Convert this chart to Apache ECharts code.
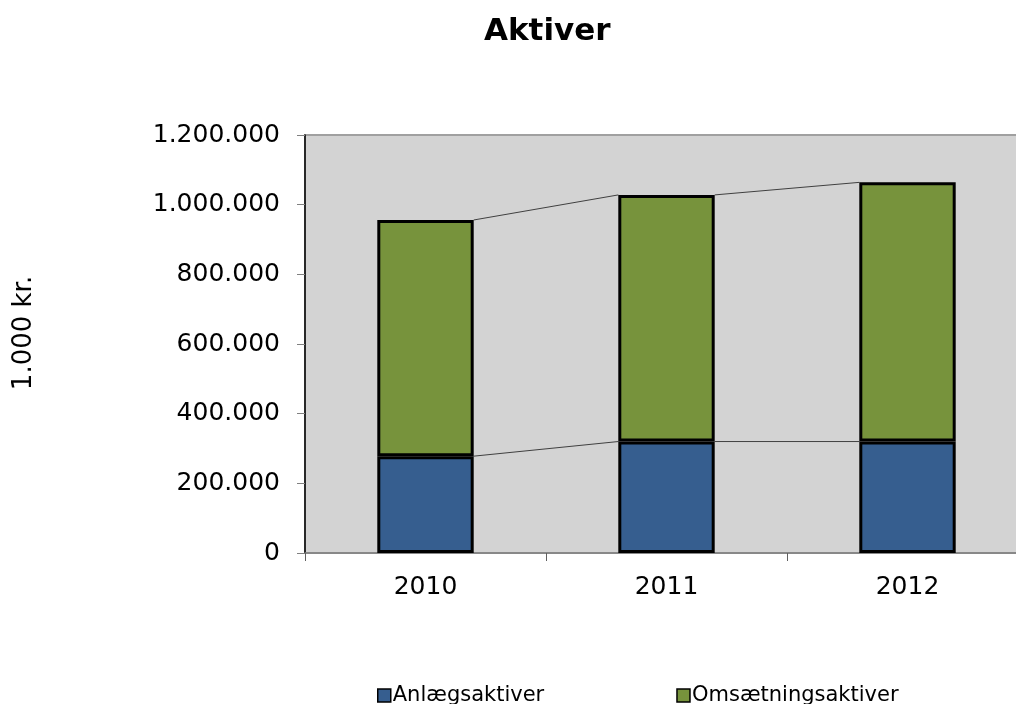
<!DOCTYPE html>
<html>
<head>
<meta charset="utf-8">
<script src="https://cdn.jsdelivr.net/npm/echarts@6/dist/echarts.min.js"></script>
<style>
  html, body { margin: 0; padding: 0; background: #fff; }
  #aktiver-chart { width: 1016px; height: 704px; }
</style>
</head>
<body>
<div id="aktiver-chart"></div>
<script>
// data (1.000 kr.)
const years = ['2010', '2011', '2012'];
const anlaeg = [278000, 320000, 320000];
const omsaetning = [678000, 708000, 744000];
const yTicks = [0, 200000, 400000, 600000, 800000, 1000000, 1200000];

const FONT = '"DejaVu Sans", Verdana, sans-serif';
const BAR_PCT = 0.4;

// cumulative levels, used for the series lines between bars
const totals = anlaeg.map((v, i) => v + omsaetning[i]);

function fmt(v) {
  return String(v).replace(/\B(?=(\d{3})+(?!\d))/g, '.');
}

const myChart = echarts.init(document.getElementById('aktiver-chart'));

const option = {
  animation: false,
  title: {
    text: 'Aktiver',
    left: 479,
    top: 11,
    textStyle: { fontFamily: FONT, fontSize: 31, fontWeight: 'bold', color: '#000' }
  },
  legend: {
    data: ['Anlægsaktiver', 'Omsætningsaktiver'],
    left: 372,
    top: 680,
    icon: 'rect',
    itemWidth: 13,
    itemHeight: 13,
    itemGap: 132,
    itemStyle: { borderColor: '#000', borderWidth: 1.5 },
    textStyle: { fontFamily: FONT, fontSize: 21, color: '#000', padding: [0, 0, 0, -3] }
  },
  grid: {
    left: 305,
    top: 135,
    width: 723,
    height: 418,
    containLabel: false,
    outerBoundsMode: 'none',
    show: true,
    backgroundColor: '#D3D3D3',
    borderColor: '#A0A0A0',
    borderWidth: 2
  },
  xAxis: {
    type: 'category',
    data: years,
    axisLine: { show: true, lineStyle: { color: '#808080', width: 1.5 } },
    axisTick: { show: true, length: 8, lineStyle: { color: '#606060' } },
    axisLabel: { margin: 22, fontFamily: FONT, fontSize: 25, color: '#000' }
  },
  yAxis: {
    type: 'value',
    min: yTicks[0],
    max: yTicks[yTicks.length - 1],
    interval: yTicks[1] - yTicks[0],
    name: '1.000 kr.',
    nameLocation: 'middle',
    nameRotate: 90,
    nameGap: 268,
    nameTextStyle: { fontFamily: FONT, fontSize: 26, color: '#000', padding: [0, 0, 0, 22] },
    splitLine: { show: false },
    axisLine: { show: true, lineStyle: { color: '#000', width: 1.5 } },
    axisTick: { show: true, length: 8, lineStyle: { color: '#808080' } },
    axisLabel: {
      margin: 25,
      fontFamily: FONT,
      fontSize: 25,
      color: '#000',
      formatter: fmt
    }
  },
  series: [
    {
      name: 'Anlægsaktiver',
      type: 'bar',
      stack: 'a',
      barWidth: (BAR_PCT * 100) + '%',
      itemStyle: { color: '#365E8F', borderColor: '#000', borderWidth: 3 },
      data: anlaeg,
      z: 3
    },
    {
      name: 'Omsætningsaktiver',
      type: 'bar',
      stack: 'a',
      barWidth: (BAR_PCT * 100) + '%',
      itemStyle: { color: '#77933C', borderColor: '#000', borderWidth: 3 },
      data: omsaetning,
      z: 3
    },
    {
      // series lines joining the tops of neighbouring bars
      type: 'custom',
      silent: true,
      z: 2,
      data: years.map((y, i) => [i, anlaeg[i], totals[i]]),
      renderItem(params, api) {
        const i = params.dataIndex;
        if (i >= years.length - 1) return null;
        const half = api.size([1, 0])[0] * BAR_PCT / 2;
        const lines = [];
        [anlaeg, totals].forEach((arr) => {
          const p0 = api.coord([i, arr[i]]);
          const p1 = api.coord([i + 1, arr[i + 1]]);
          lines.push({
            type: 'line',
            shape: { x1: p0[0] + half, y1: p0[1], x2: p1[0] - half, y2: p1[1] },
            style: { stroke: '#404040', lineWidth: 1 }
          });
        });
        return { type: 'group', children: lines };
      }
    }
  ]
};

myChart.setOption(option);
</script>
</body>
</html>
